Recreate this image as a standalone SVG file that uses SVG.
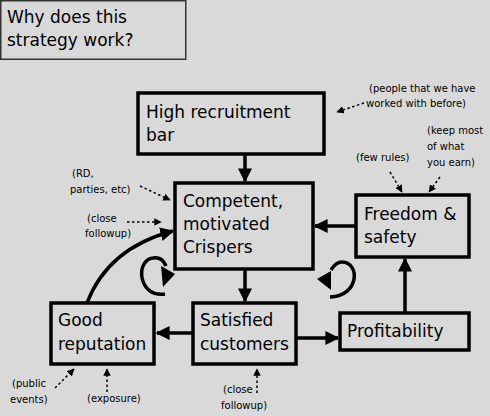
<svg xmlns="http://www.w3.org/2000/svg" width="490" height="416" viewBox="0 0 490 416">
<style>
.node{fill:#d9d9d9;stroke:#000;stroke-width:3.5}
.t{font-family:"DejaVu Sans",sans-serif;font-size:17px;fill:#000}
.a{font-family:"DejaVu Sans",sans-serif;font-size:10px;fill:#000}
.c{fill:none;stroke:#000;stroke-width:3.5}
.d{fill:none;stroke:#000;stroke-width:1.5;stroke-dasharray:2.5 2.5}
</style>
<defs>
<marker id="ah" viewBox="0 0 10 10" refX="9" refY="5" markerWidth="4" markerHeight="4" orient="auto" markerUnits="strokeWidth">
<path d="M0,0 L10,5 L0,10 Z" fill="#000"/>
</marker>
<marker id="dh" viewBox="0 0 10 10" refX="9" refY="5" markerWidth="5" markerHeight="5" orient="auto" markerUnits="strokeWidth">
<path d="M0,0 L10,5 L0,10 Z" fill="#000"/>
</marker>
</defs>
<rect width="490" height="416" fill="#d9d9d9"/>
<g id="title">
<rect x="0.75" y="0.75" width="185" height="58.5" fill="#d9d9d9" stroke="#333" stroke-width="1.5"/>
<text class="t" x="7" y="23">Why does this</text>
<text class="t" x="7" y="46">strategy work?</text>
</g>
<g id="connectors">
<path class="c" d="M245,154 V181" marker-end="url(#ah)"/>
<path class="c" d="M245,269 V301" marker-end="url(#ah)"/>
<path class="c" d="M193,333 H157" marker-end="url(#ah)"/>
<path class="c" d="M296,338 H338" marker-end="url(#ah)"/>
<path class="c" d="M405,313 V259" marker-end="url(#ah)"/>
<path class="c" d="M356,226 H315" marker-end="url(#ah)"/>
<path class="c" d="M87,303 Q108,248 173,231" marker-end="url(#ah)"/>
<path class="c" d="M165,294 C138,298 135,260 153,258 C160,257 164,261 166,266"/>
<path d="M161,266 L175,274 L163,287 Z" fill="#000"/>
<path class="c" d="M330,297 C360,296 360,262 342,262 C338,262 334,265 331,270"/>
<path d="M317,279 L331,271 L331,290 Z" fill="#000"/>
<path class="d" d="M364,103 L337,112" marker-end="url(#dh)"/>
<path class="d" d="M390,172 L402,192" marker-end="url(#dh)"/>
<path class="d" d="M440,177 L429,192" marker-end="url(#dh)"/>
<path class="d" d="M140,186 L170,200" marker-end="url(#dh)"/>
<path class="d" d="M127,222 L161,222" marker-end="url(#dh)"/>
<path class="d" d="M55,388 L74,369" marker-end="url(#dh)"/>
<path class="d" d="M107,392 V369" marker-end="url(#dh)"/>
<path class="d" d="M257,393 V369" marker-end="url(#dh)"/>
</g>
<g id="high-recruitment-bar">
<rect class="node" x="138" y="93" width="186" height="61"/>
<text class="t" x="146" y="118">High recruitment</text>
<text class="t" x="146" y="141">bar</text>
</g>
<g id="competent-crispers">
<rect class="node" x="175" y="183" width="138" height="86"/>
<text class="t" x="183" y="207">Competent,</text>
<text class="t" x="183" y="230">motivated</text>
<text class="t" x="183" y="253">Crispers</text>
</g>
<g id="freedom-safety">
<rect class="node" x="356" y="195" width="113" height="62"/>
<text class="t" x="364" y="220">Freedom &amp;</text>
<text class="t" x="364" y="243">safety</text>
</g>
<g id="good-reputation">
<rect class="node" x="51" y="303" width="103" height="61"/>
<text class="t" x="58" y="326">Good</text>
<text class="t" x="58" y="350">reputation</text>
</g>
<g id="satisfied-customers">
<rect class="node" x="193" y="303" width="103" height="61"/>
<text class="t" x="200" y="326">Satisfied</text>
<text class="t" x="200" y="350">customers</text>
</g>
<g id="profitability">
<rect class="node" x="340" y="313" width="129" height="37"/>
<text class="t" x="347" y="337">Profitability</text>
</g>
<g id="annotations">
<text class="a" x="369" y="92">(people that we have</text>
<text class="a" x="366" y="107">worked with before)</text>
<text class="a" x="427" y="134">(keep most</text>
<text class="a" x="427" y="150">of what</text>
<text class="a" x="427" y="166">you earn)</text>
<text class="a" x="356" y="161">(few rules)</text>
<text class="a" x="72" y="177">(RD,</text>
<text class="a" x="70" y="193">parties, etc)</text>
<text class="a" x="87" y="222">(close</text>
<text class="a" x="85" y="237">followup)</text>
<text class="a" x="12" y="387">(public</text>
<text class="a" x="10" y="403">events)</text>
<text class="a" x="87" y="402">(exposure)</text>
<text class="a" x="223" y="393">(close</text>
<text class="a" x="221" y="409">followup)</text>
</g>
</svg>
